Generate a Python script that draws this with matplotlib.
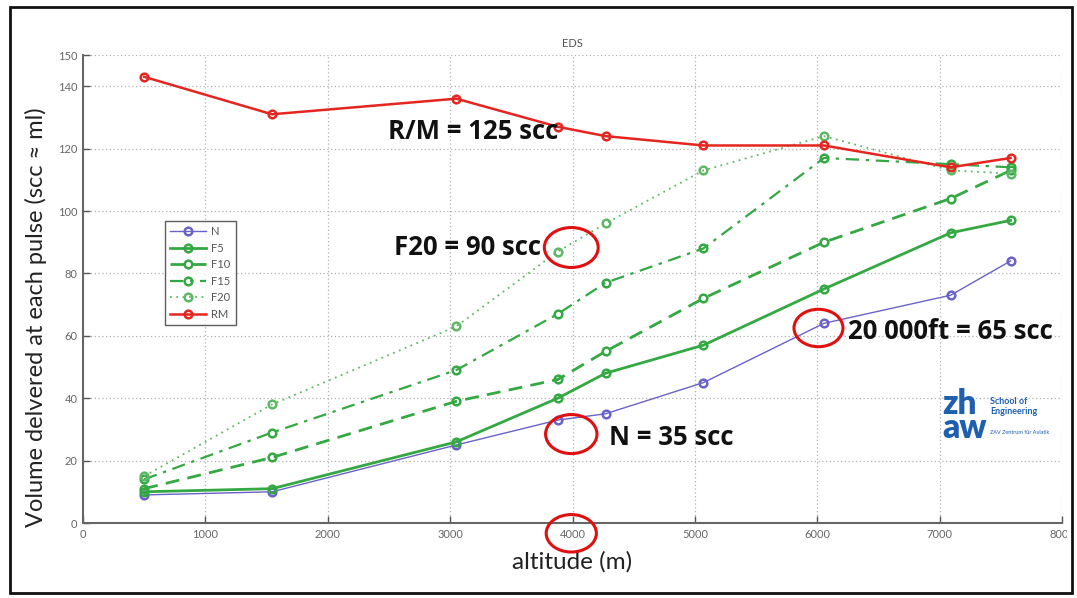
import matplotlib
matplotlib.use("Agg")
import matplotlib.pyplot as plt
from matplotlib.patches import Ellipse, Rectangle
from matplotlib.transforms import Bbox

# ---- data ----
altitude = [500, 1545, 3050, 3880, 4270, 5070, 6055, 7090, 7580]
N   = [9, 10, 25, 33, 35, 45, 64, 73, 84]
F5  = [10, 11, 26, 40, 48, 57, 75, 93, 97]
F10 = [11, 21, 39, 46, 55, 72, 90, 104, 113]
F15 = [14, 29, 49, 67, 77, 88, 117, 115, 114]
F20 = [15, 38, 63, 87, 96, 113, 124, 113, 112]
RM  = [143, 131, 136, 127, 124, 121, 121, 114, 117]
series_names = ["N", "F5", "F10", "F15", "F20", "RM"]
yticks = [0, 20, 40, 60, 80, 100, 120, 140, 150]
xticks = [0, 1000, 2000, 3000, 4000, 5000, 6000, 7000, 8000]

plt.rcParams['font.family'] = ['Lato', 'DejaVu Sans']

fig = plt.figure(figsize=(10.77, 5.98), dpi=100)
ax = fig.add_axes([83/1077, 1-523/598, (1062-83)/1077, (523-55)/598])

green = "#34a843"
styles = {
    "N":   dict(color="#6a62c8", lw=1.0, ls="-"),
    "F5":  dict(color=green, lw=2.0, ls="-"),
    "F10": dict(color=green, lw=2.0, ls=(0, (5, 3))),
    "F15": dict(color=green, lw=1.6, ls=(0, (6, 3, 1.5, 3))),
    "F20": dict(color="#5fb865", lw=1.3, ls=(0, (1, 2.5))),
    "RM":  dict(color="#e52620", lw=1.8, ls="-"),
}
values = dict(N=N, F5=F5, F10=F10, F15=F15, F20=F20, RM=RM)
for name in series_names:
    st = styles[name]
    ax.plot(altitude, values[name], color=st["color"], lw=st["lw"], ls=st["ls"],
            marker="o", ms=5.5, mfc="none", mec=st["color"], mew=1.8,
            label=name)

ax.set_xlim(0, 8000)
ax.set_ylim(0, 150)
ax.set_xticks(xticks)
ax.set_yticks(yticks)
ax.set_xticklabels([str(v) for v in xticks])
ax.grid(True, color="#b0b0b0", ls=(0, (1, 2)), lw=0.9)
ax.tick_params(direction="in", length=5, width=1, colors="#555555",
               labelsize=8, labelcolor="#666666", pad=4)
for s in ["top", "right"]:
    ax.spines[s].set_visible(False)
for s in ["left", "bottom"]:
    ax.spines[s].set_color("#666666")
    ax.spines[s].set_linewidth(1.5)

ax.set_title("EDS", fontsize=8, color="#555555", pad=6)
ax.set_xlabel("altitude (m)", fontsize=17.5, color="#222222", labelpad=8)
ax.set_ylabel("Volume delvered at each pulse (scc \u2248 ml)", fontsize=17,
              color="#222222")
ax.yaxis.set_label_coords(-0.037, 0.44)

leg = ax.legend(loc="upper left", bbox_to_anchor=(0.084, 0.645), fontsize=8,
                frameon=True, fancybox=False, edgecolor="#333333",
                handlelength=3.2, labelspacing=0.5, borderpad=0.45,
                handletextpad=0.5, borderaxespad=0)
leg.get_frame().set_linewidth(1.0)
for t in leg.get_texts():
    t.set_color("#555555")

# annotations
bold = dict(fontsize=18.5, fontweight="bold", color="#111111", va="center",
            ha="left", family=["Open Sans", "DejaVu Sans"])
ax.text(2490, 125.5, "R/M = 125 scc", **bold)
ax.text(2540, 88.3, "F20 = 90 scc", **bold)
ax.text(6250, 61.5, "20 000ft = 65 scc", **bold)
ax.text(4300, 27.5, "N = 35 scc", **bold)

ell = [((3990, 88.3), 440, 12.8), ((6010, 62.5), 400, 12.0),
       ((3990, 28.5), 420, 12.5), ((3990, -3.3), 410, 12.0)]
for (cx, cy), w, h in ell:
    ax.add_patch(Ellipse((cx, cy), w, h, fill=False, ec="#e01010", lw=2.2,
                         clip_on=False, zorder=5))

# logo
blue = "#1f5fb0"
fig.text(942/1077, 1-416/598, "zh\naw", fontsize=24, fontweight="heavy",
         color=blue, va="center", ha="left", linespacing=0.72)
fig.text(990/1077, 1-402/598, "School of", fontsize=6.5, fontweight="bold",
         color=blue, va="center")
fig.text(990/1077, 1-412/598, "Engineering", fontsize=6.5, fontweight="bold",
         color=blue, va="center")
fig.text(990/1077, 1-433/598, "ZAV Zentrum für Aviatik", fontsize=4,
         color=blue, va="center")

# frame
fig.patches.append(Rectangle((10/1077, 1-593/598), 1062/1077, 586/598,
                             transform=fig.transFigure, fill=False,
                             ec="#111111", lw=2))

fig.canvas.draw()
clip = Bbox.from_extents(0, 0, 1067, 598)
for lbl in ax.get_xticklabels():
    lbl.set_clip_box(clip)
    lbl.set_clip_on(True)

fig.savefig("out.png", dpi=100)
